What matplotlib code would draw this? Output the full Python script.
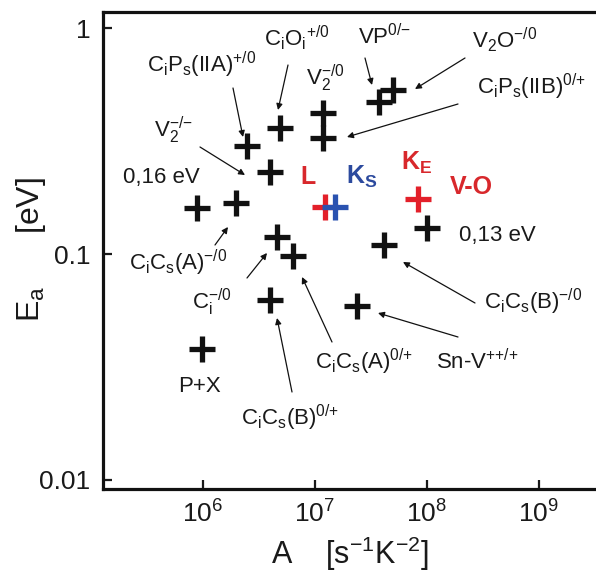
import matplotlib
matplotlib.use("Agg")
import matplotlib.pyplot as plt
import numpy as np

plt.rcParams['font.family'] = ['Liberation Sans', 'DejaVu Sans']
plt.rcParams['mathtext.fontset'] = 'custom'
plt.rcParams['mathtext.rm'] = 'Liberation Sans'
plt.rcParams['mathtext.it'] = 'Liberation Sans:italic'
plt.rcParams['mathtext.bf'] = 'Liberation Sans:bold'

# ---- data: (A [s^-1 K^-2], Ea [eV]) ----
black_A = [8.9e5, 2.0e6, 4.0e6, 2.47e6, 4.9e6, 1.18e7, 1.18e7, 3.77e7, 5.0e7,
           1.0e8, 4.17e7, 4.6e6, 6.44e6, 4.0e6, 2.37e7, 9.8e5]
black_E = [0.160, 0.168, 0.230, 0.300, 0.360, 0.420, 0.325, 0.470, 0.530,
           0.130, 0.110, 0.119, 0.098, 0.0626, 0.059, 0.038]
red_A = [1.24e7, 8.4e7]     # L, K_E
red_E = [0.162, 0.176]
blue_A = [1.51e7]           # K_S
blue_E = [0.162]

xticks = [1e6, 1e7, 1e8, 1e9]
yticks = [0.01, 0.1, 1]
ytick_labels = ['0.01', '0.1', '1']

# labels: (text, x_px, y_px) in figure pixels from top-left
labels = [
    (r'C$_\mathrm{i}$P$_\mathrm{s}$(IIA)$^\mathrm{+/0}$', 202, 65),
    (r'C$_\mathrm{i}$O$_\mathrm{i}$$^\mathrm{+/0}$', 297, 38),
    (r'VP$^\mathrm{0/{-}}$', 385, 37),
    (r'V$_\mathrm{2}$O$^\mathrm{-/0}$', 505, 40),
    (r'V$_\mathrm{2}^\mathrm{-/0}$', 325, 78),
    (r'C$_\mathrm{i}$P$_\mathrm{s}$(IIB)$^\mathrm{0/{+}}$', 531, 87),
    (r'V$_\mathrm{2}^\mathrm{-/{-}}$', 173, 130),
    ('0,16 eV', 161, 178),
    ('0,13 eV', 497, 235),
    (r'C$_\mathrm{i}$C$_\mathrm{s}$(A)$^\mathrm{-/0}$', 178, 263),
    (r'C$_\mathrm{i}^\mathrm{-/0}$', 212, 302),
    (r'C$_\mathrm{i}$C$_\mathrm{s}$(B)$^\mathrm{-/0}$', 533, 302),
    (r'C$_\mathrm{i}$C$_\mathrm{s}$(A)$^\mathrm{0/{+}}$', 364, 362),
    (r'Sn-V$^\mathrm{{+}{+}/{+}}$', 477, 362),
    ('P+X', 199, 387),
    (r'C$_\mathrm{i}$C$_\mathrm{s}$(B)$^\mathrm{0/{+}}$', 290, 418),
]
bold_labels = [
    ('L', 308, 177, '#d8282c'),
    (r'K$_\mathbf{S}$', 362, 177, '#2c4a9e'),
    (r'K$_\mathbf{E}$', 417, 163, '#d8282c'),
    ('V-O', 471, 187, '#d8282c'),
]
# arrows: (tail_x, tail_y, head_x, head_y) in figure pixels from top-left
arrows = [
    (233, 88, 243, 137), (288, 65, 278, 110), (365, 58, 372, 85),
    (465, 58, 415, 89), (458, 104, 347, 137), (200, 147, 245, 175),
    (215, 245, 228, 227), (247, 278, 267, 253), (475, 303, 403, 262),
    (332, 342, 302, 277), (458, 337, 378, 313), (292, 392, 277, 318),
]

W, H = 596, 574
fig = plt.figure(figsize=(W / 100, H / 100), dpi=100)
ax = fig.add_axes([103 / W, 85 / H, 505 / W, 477 / H])
ax.set_xscale('log')
ax.set_yscale('log')
ax.set_xlim(10 ** 5.11, 10 ** 9.62)
ax.set_ylim(10 ** -2.04, 10 ** 0.071)

ms, mew = 19, 3.8
ax.plot(black_A, black_E, '+', color='#111111', ms=ms, mew=mew, zorder=3)
ax.plot(red_A, red_E, '+', color='#e3202a', ms=ms, mew=mew, zorder=3)
ax.plot(blue_A, blue_E, '+', color='#2a52b0', ms=ms, mew=mew, zorder=4)

ax.set_xticks(xticks)
ax.set_yticks(yticks)
ax.set_yticklabels(ytick_labels)
ax.minorticks_off()
ax.tick_params(axis='both', which='both', direction='in', length=6.5, width=1.6,
               labelsize=19, colors='#1a1a1a')
ax.tick_params(axis='x', pad=8)
ax.tick_params(axis='y', pad=9)
for s in ax.spines.values():
    s.set_linewidth(2.3)
    s.set_color('#111111')

ax.set_xlabel(r'A    [s$^\mathrm{-1}$K$^\mathrm{-2}$]', fontsize=22, color='#1a1a1a')
ax.xaxis.set_label_coords((350 - 103) / 505, -(535 - 489) / 477)
ax.set_ylabel(r'E$_\mathrm{a}$      [eV]', fontsize=23, color='#1a1a1a')
ax.yaxis.set_label_coords((48 - 103) / 505, (489 - 250) / 477)

for t, x, y in labels:
    ax.annotate(t, xy=(x, H - y), xycoords='figure pixels', ha='center', va='center',
                fontsize=16, color='#1a1a1a', annotation_clip=False)
for t, x, y, c in bold_labels:
    ax.annotate(t, xy=(x, H - y), xycoords='figure pixels', ha='center', va='center',
                fontsize=18, color=c, fontweight='bold', annotation_clip=False)
for tx, ty, hx, hy in arrows:
    ax.annotate('', xy=(hx, H - hy), xytext=(tx, H - ty), xycoords='figure pixels',
                textcoords='figure pixels',
                arrowprops=dict(arrowstyle='-|>', lw=0.9, color='#111111',
                                mutation_scale=9, shrinkA=0, shrinkB=0))

fig.savefig('out.png', dpi=100)
